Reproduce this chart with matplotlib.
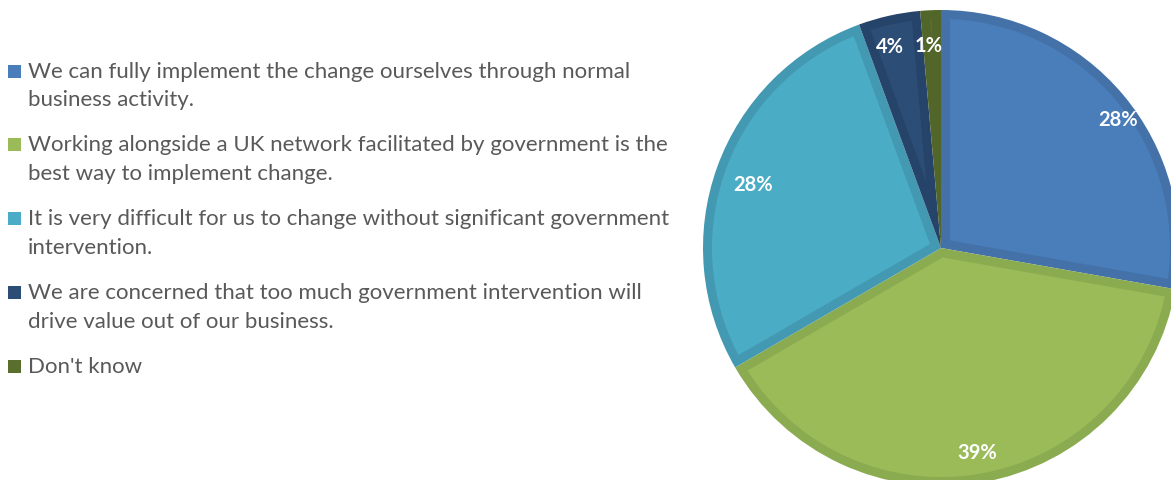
import matplotlib
matplotlib.use("Agg")
import numpy as np
import matplotlib.pyplot as plt
from matplotlib.patches import Wedge, Polygon, Rectangle

# Survey responses (share of respondents, %)
categories = [
    ["We can fully implement the change ourselves through normal", "business activity."],
    ["Working alongside a UK network facilitated by government is the", "best way to implement change."],
    ["It is very difficult for us to change without significant government", "intervention."],
    ["We are concerned that too much government intervention will", "drive value out of our business."],
    ["Don't know"],
]
values = [27.8, 38.9, 27.8, 4.2, 1.4]

fill_colors = ["#4a7ebb", "#9bbb59", "#4bacc6", "#2c4d75", "#5a6e2e"]
edge_colors = ["#4471a8", "#8bab50", "#4399b1", "#26436a", "#52662a"]

W, H = 1171, 481
fig = plt.figure(figsize=(W / 100, H / 100), dpi=100)
ax = fig.add_axes([0, 0, 1, 1])
ax.set_xlim(0, W)
ax.set_ylim(0, H)
ax.set_aspect("equal")
ax.axis("off")

cx, cy, R = 941, H - 249, 238
border = 9  # width of the darker inner rim on every slice

# per-slice label nudges (pixels, x right / y up)
label_nudge = [(17, -6), (0, 2), (9, -7), (-5, -2), (-3, -6)]


def inset_polygon(t1, t2, d):
    """Polygon of the slice (t1..t2 degrees) shrunk inward by d pixels."""
    span = np.radians(t2 - t1)
    Ri = R - d
    s = d / np.sin(span / 2)
    if s >= Ri:
        return None
    mid = np.radians((t1 + t2) / 2)
    apex = (cx + s * np.cos(mid), cy + s * np.sin(mid))
    delta = np.degrees(np.arcsin(d / Ri))
    th = np.radians(np.linspace(t1 + delta, t2 - delta, 200))
    pts = [apex] + list(zip(cx + Ri * np.cos(th), cy + Ri * np.sin(th)))
    return pts


total = sum(values)
cum = 0.0
for v, fc, ec, (nx, ny) in zip(values, fill_colors, edge_colors, label_nudge):
    t2 = 90 - 360 * cum / total
    cum += v
    t1 = 90 - 360 * cum / total
    ax.add_patch(Wedge((cx, cy), R, t1, t2, facecolor=ec, edgecolor="none"))
    pts = inset_polygon(t1, t2, border)
    if pts is not None:
        ax.add_patch(Polygon(pts, closed=True, facecolor=fc, edgecolor="none"))
    mid = np.radians((t1 + t2) / 2)
    lx = cx + 0.88 * R * np.cos(mid) + nx
    ly = cy + 0.88 * R * np.sin(mid) + ny
    ax.text(lx, ly, f"{v:.0f}%", ha="center", va="center", color="white",
            fontsize=14.5, fontweight="bold", family="Lato")

# Legend on the left
text_color = "#595959"
line_centers = [[72, 100], [145, 174], [219, 248], [293, 322], [367]]
for lines, color, ys in zip(categories, fill_colors, line_centers):
    ax.add_patch(Rectangle((8, H - ys[0] - 7), 13, 13, facecolor=color, edgecolor="none"))
    for txt, yc in zip(lines, ys):
        ax.text(28, H - yc - 6, txt, ha="left", va="baseline", fontsize=16,
                color=text_color, family="Lato")

fig.savefig("out.png", dpi=100)
